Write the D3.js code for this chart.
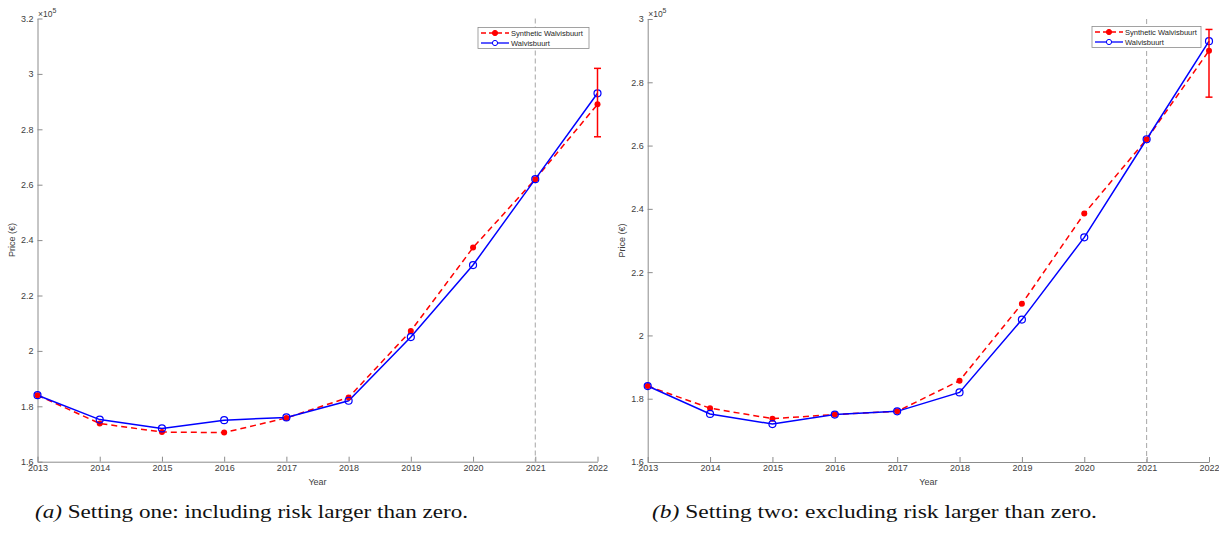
<!DOCTYPE html>
<html>
<head>
<meta charset="utf-8">
<script src="https://cdn.jsdelivr.net/npm/d3@7"></script>
<style>
  body { margin: 0; background: #fff; }
  svg { display: block; }
</style>
</head>
<body>
<svg id="chart" width="1219" height="534"></svg>
<script>
'use strict';

// Data (prices in units of 10^5 EUR)
const years = [2013, 2014, 2015, 2016, 2017, 2018, 2019, 2020, 2021, 2022];
const walvisbuurt = [1.84, 1.752, 1.72, 1.75, 1.76, 1.82, 2.05, 2.31, 2.62, 2.93];
const syntheticOne = [1.84, 1.738, 1.707, 1.705, 1.758, 1.832, 2.072, 2.373, 2.62, 2.89];
const syntheticTwo = [1.84, 1.77, 1.737, 1.75, 1.76, 1.857, 2.10, 2.385, 2.62, 2.90];
const errorOne = [2.773, 3.02];
const errorTwo = [2.753, 2.967];
const yTicksOne = [1.6, 1.8, 2, 2.2, 2.4, 2.6, 2.8, 3, 3.2];
const yTicksTwo = [1.6, 1.8, 2, 2.2, 2.4, 2.6, 2.8, 3];
const cutoffYear = 2021;
const seriesNames = ['Synthetic Walvisbuurt', 'Walvisbuurt'];
const captions = [
  ['(a)', ' Setting one: including risk larger than zero.'],
  ['(b)', ' Setting two: excluding risk larger than zero.']
];

const svg = d3.select('#chart');
const axisColor = '#8c8c8c';
const textColor = '#404040';

const panels = [
  { left: 37.5, right: 597.5, top: 18.5, bottom: 461.7, domain: [1.6, 3.2], ticks: yTicksOne,
    synth: syntheticOne, err: errorOne, caption: captions[0], captionX: 35, captionW: 433,
    legend: { x: 478, y: 27.5, w: 111, h: 21 } },
  { left: 647.7, right: 1209, top: 19, bottom: 462, domain: [1.6, 3.0], ticks: yTicksTwo,
    synth: syntheticTwo, err: errorTwo, caption: captions[1], captionX: 652, captionW: 445,
    legend: { x: 1092, y: 26.5, w: 109, h: 21 } }
];

function drawPanel(p) {
  const g = svg.append('g');
  const x = d3.scaleLinear().domain([2013, 2022]).range([p.left, p.right]);
  const y = d3.scaleLinear().domain(p.domain).range([p.bottom, p.top]);

  // x axis (ticks pointing inward)
  const xAxis = g.append('g')
    .attr('transform', `translate(0,${p.bottom})`)
    .call(d3.axisBottom(x).tickValues(years).tickFormat(d3.format('d')).tickSizeInner(-5).tickSizeOuter(0).tickPadding(4));
  // y axis
  const yAxis = g.append('g')
    .attr('transform', `translate(${p.left},0)`)
    .call(d3.axisLeft(y).tickValues(p.ticks).tickFormat(d => d3.format('~g')(d)).tickSizeInner(-5).tickSizeOuter(0).tickPadding(4));

  [xAxis, yAxis].forEach(a => {
    a.select('.domain').attr('stroke', axisColor).attr('stroke-width', 1);
    a.selectAll('.tick line').attr('stroke', axisColor);
    a.selectAll('.tick text')
      .attr('fill', textColor)
      .attr('font-family', 'Liberation Sans, Arial, sans-serif')
      .attr('font-size', 9);
  });
  xAxis.selectAll('.tick text').attr('dy', '0.6em');

  // exponent label
  const exp = g.append('text')
    .attr('x', p.left + 0.5)
    .attr('y', p.top - 2)
    .attr('fill', textColor)
    .attr('font-family', 'Liberation Sans, Arial, sans-serif')
    .attr('font-size', 8.5);
  exp.append('tspan').text('\u00d710');
  exp.append('tspan').attr('dy', -4).attr('font-size', 7).text('5');

  // axis labels
  g.append('text')
    .attr('transform', `translate(${p.left - 23},${(p.top + p.bottom) / 2}) rotate(-90)`)
    .attr('text-anchor', 'middle')
    .attr('fill', textColor)
    .attr('font-family', 'Liberation Sans, Arial, sans-serif')
    .attr('font-size', 9)
    .text('Price (\u20ac)');
  g.append('text')
    .attr('x', (p.left + p.right) / 2)
    .attr('y', p.bottom + 23)
    .attr('text-anchor', 'middle')
    .attr('fill', textColor)
    .attr('font-family', 'Liberation Sans, Arial, sans-serif')
    .attr('font-size', 9)
    .text('Year');

  // cutoff line
  g.append('line')
    .attr('x1', x(cutoffYear)).attr('x2', x(cutoffYear))
    .attr('y1', p.top).attr('y2', p.bottom)
    .attr('stroke', '#a6a6a6').attr('stroke-width', 1)
    .attr('stroke-dasharray', '5,3');

  const line = d3.line().x((d, i) => x(years[i])).y(d => y(d));

  // synthetic series: red dashed, filled dots
  g.append('path')
    .datum(p.synth)
    .attr('d', line)
    .attr('fill', 'none')
    .attr('stroke', '#ff0000')
    .attr('stroke-width', 1.5)
    .attr('stroke-dasharray', '6,4');

  // actual series: blue solid, open circles
  g.append('path')
    .datum(walvisbuurt)
    .attr('d', line)
    .attr('fill', 'none')
    .attr('stroke', '#0000ff')
    .attr('stroke-width', 1.5);

  g.selectAll('.dotSynth')
    .data(p.synth)
    .join('circle')
    .attr('cx', (d, i) => x(years[i]))
    .attr('cy', d => y(d))
    .attr('r', 3)
    .attr('fill', '#ff0000');

  g.selectAll('.dotReal')
    .data(walvisbuurt)
    .join('circle')
    .attr('cx', (d, i) => x(years[i]))
    .attr('cy', d => y(d))
    .attr('r', 3.5)
    .attr('fill', 'none')
    .attr('stroke', '#0000ff')
    .attr('stroke-width', 1.2);

  // error bar on last synthetic point
  const ex = x(years[years.length - 1]);
  const eb = g.append('g').attr('stroke', '#ff0000').attr('stroke-width', 1.5);
  eb.append('line').attr('x1', ex).attr('x2', ex).attr('y1', y(p.err[0])).attr('y2', y(p.err[1]));
  eb.append('line').attr('x1', ex - 3.5).attr('x2', ex + 3.5).attr('y1', y(p.err[0])).attr('y2', y(p.err[0]));
  eb.append('line').attr('x1', ex - 3.5).attr('x2', ex + 3.5).attr('y1', y(p.err[1])).attr('y2', y(p.err[1]));

  // legend
  const L = p.legend;
  const lg = g.append('g').attr('transform', `translate(${L.x},${L.y})`);
  lg.append('rect')
    .attr('width', L.w).attr('height', L.h)
    .attr('fill', '#fff').attr('stroke', '#8c8c8c').attr('stroke-width', 0.8);
  const rows = [
    { name: seriesNames[0], color: '#ff0000', dash: '5,3', filled: true },
    { name: seriesNames[1], color: '#0000ff', dash: null, filled: false }
  ];
  rows.forEach((r, i) => {
    const cy = 5.5 + i * 10;
    lg.append('line')
      .attr('x1', 3).attr('x2', 31).attr('y1', cy).attr('y2', cy)
      .attr('stroke', r.color).attr('stroke-width', 1.3)
      .attr('stroke-dasharray', r.dash);
    lg.append('circle')
      .attr('cx', 17).attr('cy', cy).attr('r', 2.6)
      .attr('fill', r.filled ? r.color : '#fff')
      .attr('stroke', r.color).attr('stroke-width', 1);
    lg.append('text')
      .attr('x', 33).attr('y', cy).attr('dy', '0.35em')
      .attr('fill', '#262626')
      .attr('font-family', 'Liberation Sans, Arial, sans-serif')
      .attr('font-size', 7.5)
      .text(r.name);
  });

  // caption
  const cap = svg.append('text')
    .attr('x', p.captionX)
    .attr('y', 518)
    .attr('fill', '#111')
    .attr('font-family', 'Liberation Serif, Times New Roman, serif')
    .attr('font-size', 18.5)
    .attr('textLength', p.captionW)
    .attr('lengthAdjust', 'spacingAndGlyphs');
  cap.append('tspan').attr('font-style', 'italic').text(p.caption[0]);
  cap.append('tspan').text(p.caption[1]);
}

panels.forEach(drawPanel);
</script>
</body>
</html>
